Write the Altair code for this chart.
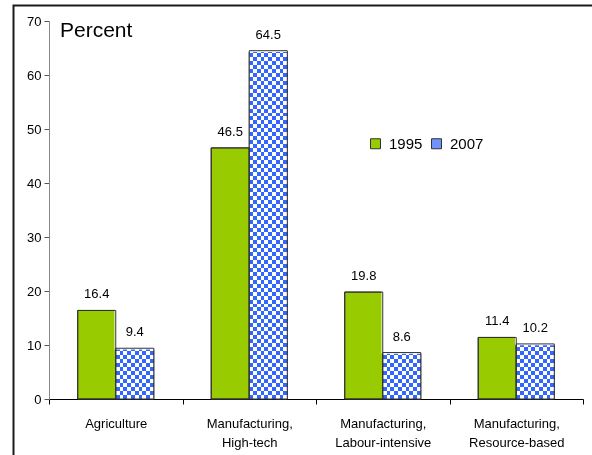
import altair as alt
import pandas as pd

# ---- data ----
categories = [
    "Agriculture",
    "Manufacturing, High-tech",
    "Manufacturing, Labour-intensive",
    "Manufacturing, Resource-based",
]
years = ["1995", "2007"]
values_1995 = [16.4, 46.5, 19.8, 11.4]
values_2007 = [9.4, 64.5, 8.6, 10.2]
y_ticks = [0, 10, 20, 30, 40, 50, 60, 70]

rows = []
for c, v1, v2 in zip(categories, values_1995, values_2007):
    rows.append({"category": c, "year": years[0], "value": v1})
    rows.append({"category": c, "year": years[1], "value": v2})
df = pd.DataFrame(rows)

# ---- style ----
W, H = 534, 378
YMAX = 70
GREEN = "#99CC00"
BLUE = "#3366FF"
LEGEND_BLUE = "#7093ff"
FONT = "Liberation Sans"
OUTLINE = "#333333"


def stripes(n, along_y):
    """white/black hard-edged stripe gradient (used to build a checker pattern)"""
    stops = []
    for i in range(n):
        col = "white" if i % 2 == 0 else "black"
        stops.append({"offset": i / n, "color": col})
        stops.append({"offset": (i + 1) / n, "color": col})
    return {
        "gradient": "linear",
        "stops": stops,
        "x1": 0,
        "y1": 0,
        "x2": 0 if along_y else 1,
        "y2": 1 if along_y else 0,
    }


label_expr = (
    "indexof(datum.label, ', ') > 0 ? "
    "[slice(datum.label, 0, indexof(datum.label, ', ') + 1), "
    "slice(datum.label, indexof(datum.label, ', ') + 2)] : datum.label"
)

x_enc = alt.X(
    "category:N",
    sort=categories,
    scale=alt.Scale(paddingInner=0, paddingOuter=0),
    axis=alt.Axis(
        title=None,
        labelAngle=0,
        labelExpr=label_expr,
        tickBand="extent",
        tickSize=5,
        tickColor="black",
        domainColor="black",
        labelFont=FONT,
        labelFontSize=13,
        labelColor="black",
        labelPadding=13,
        labelLineHeight=19,
    ),
)
xoff_enc = alt.XOffset(
    "year:N", sort=years, scale=alt.Scale(paddingInner=0, paddingOuter=0.755)
)
y_scale = alt.Scale(domain=[0, YMAX], nice=False)
y_enc = alt.Y(
    "value:Q",
    scale=y_scale,
    axis=alt.Axis(
        title=None,
        values=y_ticks,
        grid=False,
        domainColor="#888888",
        tickColor="#555555",
        tickSize=5,
        labelFont=FONT,
        labelFontSize=13,
        labelColor="black",
        labelPadding=3,
    ),
)

base = alt.Chart(df).encode(x=x_enc, xOffset=xoff_enc)

bars = base.mark_bar(stroke=OUTLINE, strokeWidth=1).encode(
    y=y_enc,
    color=alt.Color(
        "year:N",
        sort=years,
        scale=alt.Scale(domain=years, range=[GREEN, LEGEND_BLUE]),
        legend=alt.Legend(
            title=None,
            orient="none",
            legendX=319,
            legendY=115,
            direction="horizontal",
            symbolType="square",
            symbolSize=100,
            symbolStrokeColor=OUTLINE,
            symbolStrokeWidth=1,
            symbolOpacity=1,
            labelFont=FONT,
            labelFontSize=15,
            labelColor="black",
            labelOffset=6,
            columnPadding=6,
            padding=0,
        ),
    ),
)

late = base.transform_filter(alt.datum.year == years[1])
full_col = late.encode(y=alt.datum(0), y2=alt.datum(YMAX))

rows_layer = full_col.mark_bar(fill=stripes(95, True))
cols_layer = full_col.mark_bar(fill=stripes(10, False), blend="difference")
tint_layer = full_col.mark_bar(fill=BLUE, blend="screen")
cover = late.mark_bar(fill="white", stroke="white", strokeWidth=2.5).encode(
    y=alt.Y("value:Q"), y2=alt.datum(YMAX + 2)
)
outline = base.mark_bar(fillOpacity=0, stroke=OUTLINE, strokeWidth=1).encode(
    y=alt.Y("value:Q")
)

labels = base.mark_text(
    baseline="alphabetic", dy=-12, fontSize=13, font=FONT, color="black"
).encode(y=alt.Y("value:Q"), text=alt.Text("value:Q", format=".1f"))

unit_title = alt.Chart(alt.Data(values=[{"t": "Percent"}])).mark_text(
    align="left", baseline="alphabetic", fontSize=21, font=FONT, color="black"
).encode(x=alt.value(11), y=alt.value(16), text="t:N")

frame = alt.Chart(alt.Data(values=[{"f": 1}])).mark_rect(
    fillOpacity=0, stroke="#1a1a1a", strokeWidth=2
).encode(x=alt.value(-35.5), x2=alt.value(620), y=alt.value(-15.5), y2=alt.value(520))

chart = (
    alt.layer(bars, rows_layer, cols_layer, tint_layer, cover, outline, labels, unit_title, frame)
    .properties(
        width=W,
        height=H,
        autosize=alt.AutoSizeParams(type="none"),
        padding={"left": 49, "top": 21, "right": 9, "bottom": 56},
        background="white",
    )
    .configure_view(stroke=None)
)

chart.save("out.html", embed_options={"renderer": "svg", "actions": False})
